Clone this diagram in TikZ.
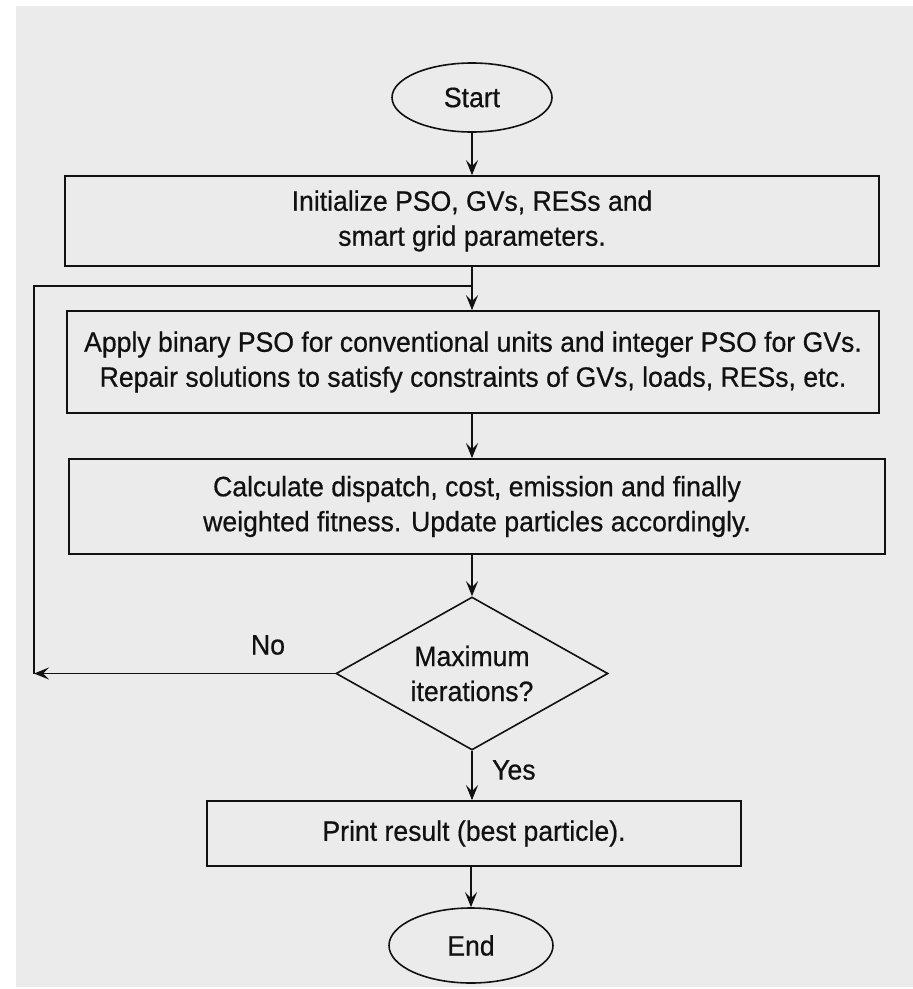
\documentclass[tikz,border=0pt]{standalone}
\usepackage{fontspec}
\setmainfont[FakeStretch=0.95,FakeBold=0.6]{Liberation Sans}
\usetikzlibrary{shapes.geometric,arrows.meta}
\definecolor{bggray}{HTML}{EBEBEB}
\definecolor{ink}{HTML}{111111}
\tikzset{
  base/.style={draw=ink, line width=1.6pt, inner sep=0pt, align=center,
    font=\fontsize{28}{35}\selectfont, text=ink},
  procbox/.style={base, rectangle},
  termin/.style={base, ellipse},
  decision/.style={base, diamond, aspect=1.78},
  arr/.style={draw=ink, line width=1.6pt, -{Stealth[length=15pt,width=12pt,inset=6pt]}},
  lin/.style={draw=ink, line width=1.6pt},
  lbl/.style={font=\fontsize{28}{35}\selectfont, text=ink, inner sep=0pt}
}
\begin{document}
\begin{tikzpicture}[x=1pt,y=-1pt]
\useasboundingbox (0,0) rectangle (913,989);
\fill[white] (0,0) rectangle (913,989);
\fill[bggray] (16,6) rectangle (913,987);

\node[termin, minimum width=160pt, minimum height=69pt] (start) at (472,97.5) {Start};
\node[procbox, minimum width=814pt, minimum height=90pt] (b1) at (472,221)
  {Initialize PSO, GVs, RESs and\\smart grid parameters.};
\node[procbox, minimum width=812pt, minimum height=102pt] (b2) at (473,362)
  {Apply binary PSO for conventional units and integer PSO for GVs.\\Repair solutions to satisfy constraints of GVs, loads, RESs, etc.};
\node[procbox, minimum width=816pt, minimum height=95pt] (b3) at (477,506.5)
  {Calculate dispatch, cost, emission and finally\\weighted fitness. Update particles accordingly.};
\node[decision, minimum width=272pt, minimum height=153pt] (dec) at (472,673.5)
  {Maximum\\iterations?};
\node[procbox, minimum width=534pt, minimum height=65pt] (b4) at (474,833.5)
  {Print result (best particle).};
\node[termin, minimum width=164pt, minimum height=75pt] (end) at (471,945.5) {End};

\coordinate (cL) at (34,673.5);
\coordinate (cJ) at (472,286);

\draw[arr] (start.south) -- (b1.north -| start.south);
\draw[arr] (b1.south -| start.south) -- (b2.north -| start.south);
\draw[arr] (b2.south -| start.south) -- (b3.north -| start.south);
\draw[arr] (b3.south -| dec.north) -- (dec.north);
\draw[arr] (dec.south) -- (b4.north -| dec.south);
\draw[arr] (b4.south -| end.north) -- (end.north);
\draw[arr] (dec.west) -- (cL);
\draw[lin] (cL) |- (cJ);

\node[lbl] (no) at (268,645) {No};
\node[lbl, anchor=west] (yes) at (492,770) {Yes};
\end{tikzpicture}
\end{document}
